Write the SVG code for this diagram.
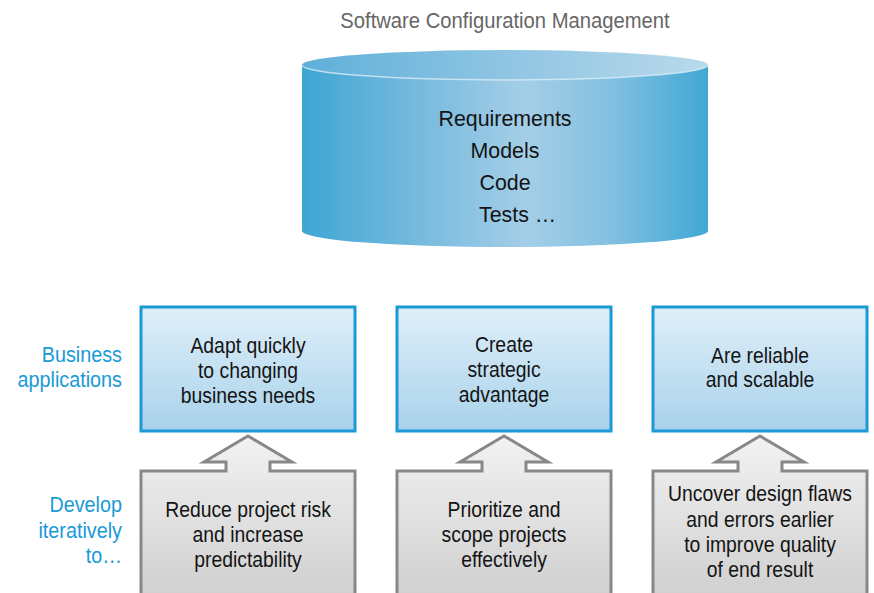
<svg xmlns="http://www.w3.org/2000/svg" width="874" height="593" viewBox="0 0 874 593">
<defs>
<linearGradient id="cylBody" x1="302" y1="0" x2="708" y2="0" gradientUnits="userSpaceOnUse">
<stop offset="0" stop-color="#3ea6d3"/>
<stop offset="0.25" stop-color="#70b7dd"/>
<stop offset="0.55" stop-color="#a4cee7"/>
<stop offset="0.75" stop-color="#85c1e1"/>
<stop offset="1" stop-color="#40a8d5"/>
</linearGradient>
<linearGradient id="cylTop" x1="302" y1="0" x2="708" y2="0" gradientUnits="userSpaceOnUse">
<stop offset="0" stop-color="#5eafd9"/>
<stop offset="0.5" stop-color="#8fc5e3"/>
<stop offset="1" stop-color="#b9d9eb"/>
</linearGradient>
<linearGradient id="blueFill" x1="0" y1="0" x2="0" y2="1">
<stop offset="0" stop-color="#e0eff9"/>
<stop offset="1" stop-color="#a8d2eb"/>
</linearGradient>
<linearGradient id="grayFill" x1="0" y1="436" x2="0" y2="600" gradientUnits="userSpaceOnUse">
<stop offset="0" stop-color="#f2f2f2"/>
<stop offset="1" stop-color="#cfcfcf"/>
</linearGradient>
</defs>
<style>
.t{font-family:"Liberation Sans",Arial,sans-serif;font-size:22px;fill:#141414;text-anchor:middle}
.c{font-family:"Liberation Sans",Arial,sans-serif;font-size:23px;fill:#141414;text-anchor:middle}
.lbl{font-family:"Liberation Sans",Arial,sans-serif;font-size:22px;fill:#1a9ad6;text-anchor:end}
.title{font-family:"Liberation Sans",Arial,sans-serif;font-size:22px;fill:#666;text-anchor:middle}
.blue{fill:url(#blueFill);stroke:#1a9ad6;stroke-width:3}
.gray{fill:url(#grayFill);stroke:#888;stroke-width:3;stroke-linejoin:miter}
</style>

<g id="title" transform="translate(505 0) scale(0.92 1)">
<text class="title" x="0" y="28">Software Configuration Management</text>
</g>

<g id="scm">
<path d="M302,65 V231 A203,16 0 0 0 708,231 V65 Z" fill="url(#cylBody)"/>
<ellipse cx="505" cy="65" rx="203" ry="15" fill="url(#cylTop)"/>
<path d="M302,65 A203,15 0 0 0 708,65" fill="none" stroke="#d8ecf6" stroke-width="1.5" opacity="0.8"/>
<g transform="translate(505 0) scale(0.93 1)">
<text class="c" x="0" y="126">Requirements</text>
<text class="c" x="0" y="158">Models</text>
<text class="c" x="0" y="190">Code</text>
<text class="c" x="-28" y="222" style="text-anchor:start">Tests …</text>
</g>
</g>

<g id="label-business" transform="translate(122 0) scale(0.9 1)">
<text class="lbl" x="0" y="362">Business</text>
<text class="lbl" x="0" y="387">applications</text>
</g>
<g id="label-develop" transform="translate(122 0) scale(0.9 1)">
<text class="lbl" x="0" y="512">Develop</text>
<text class="lbl" x="0" y="538">iteratively</text>
<text class="lbl" x="0" y="563">to…</text>
</g>

<g id="biz1">
<rect class="blue" x="141" y="307" width="214" height="124"/>
<g transform="translate(248 0) scale(0.88 1)">
<text class="t" x="0" y="353">Adapt quickly</text>
<text class="t" x="0" y="378">to changing</text>
<text class="t" x="0" y="403">business needs</text>
</g>
</g>
<g id="biz2">
<rect class="blue" x="397" y="307" width="214" height="124"/>
<g transform="translate(504 0) scale(0.88 1)">
<text class="t" x="0" y="352">Create</text>
<text class="t" x="0" y="377">strategic</text>
<text class="t" x="0" y="402">advantage</text>
</g>
</g>
<g id="biz3">
<rect class="blue" x="653" y="307" width="214" height="124"/>
<g transform="translate(760 0) scale(0.88 1)">
<text class="t" x="0" y="363">Are reliable</text>
<text class="t" x="0" y="387">and scalable</text>
</g>
</g>

<g id="connectors">
</g>

<g id="dev1">
<path class="gray" d="M141,600 V471 H226 V462 H204 L248,436 L292,462 H270 V471 H355 V600"/>
<g transform="translate(248 0) scale(0.88 1)">
<text class="t" x="0" y="517">Reduce project risk</text>
<text class="t" x="0" y="542">and increase</text>
<text class="t" x="0" y="567">predictability</text>
</g>
</g>
<g id="dev2">
<path class="gray" d="M397,600 V471 H482 V462 H460 L504,436 L548,462 H526 V471 H611 V600"/>
<g transform="translate(504 0) scale(0.88 1)">
<text class="t" x="0" y="517">Prioritize and</text>
<text class="t" x="0" y="542">scope projects</text>
<text class="t" x="0" y="567">effectively</text>
</g>
</g>
<g id="dev3">
<path class="gray" d="M653,600 V471 H738 V462 H716 L760,436 L804,462 H782 V471 H867 V600"/>
<g transform="translate(760 0) scale(0.88 1)">
<text class="t" x="0" y="501">Uncover design flaws</text>
<text class="t" x="0" y="527">and errors earlier</text>
<text class="t" x="0" y="552">to improve quality</text>
<text class="t" x="0" y="577">of end result</text>
</g>
</g>
</svg>
